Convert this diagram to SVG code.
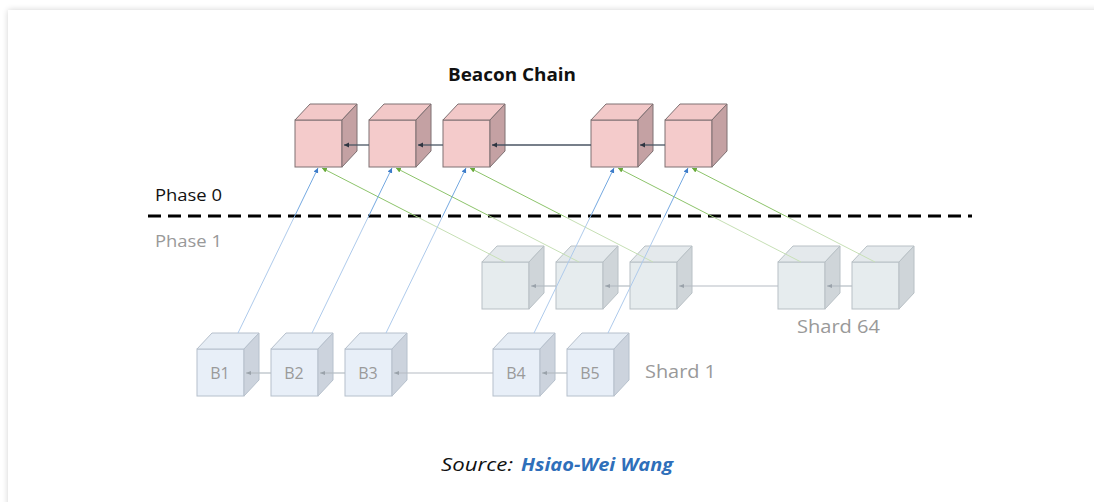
<svg xmlns="http://www.w3.org/2000/svg" width="1094" height="502" viewBox="0 0 1094 502">
<defs>
<filter id="shadow" x="-5%" y="-10%" width="110%" height="120%">
<feGaussianBlur in="SourceAlpha" stdDeviation="3"/>
<feComponentTransfer><feFuncA type="linear" slope="0.18"/></feComponentTransfer>
<feMerge><feMergeNode/><feMergeNode in="SourceGraphic"/></feMerge>
</filter>
<linearGradient id="gBlue" gradientUnits="userSpaceOnUse" x1="0" y1="0" x2="0" y2="502">
<stop offset="0.43" stop-color="#74a8e0"/>
<stop offset="0.435" stop-color="#aecaeb"/>
<stop offset="1" stop-color="#aecaeb"/>
</linearGradient>
<linearGradient id="gGreen" gradientUnits="userSpaceOnUse" x1="0" y1="0" x2="0" y2="502">
<stop offset="0.43" stop-color="#8cc36a"/>
<stop offset="0.435" stop-color="#c4deb2"/>
<stop offset="1" stop-color="#dcebd0"/>
</linearGradient>
<marker id="aBeacon" markerWidth="6" markerHeight="6" refX="5" refY="3" orient="auto" markerUnits="userSpaceOnUse">
<path d="M0,0.5 L5,3 L0,5.5 Z" fill="#2f3540"/>
</marker>
<marker id="aGray" markerWidth="6" markerHeight="6" refX="5" refY="3" orient="auto" markerUnits="userSpaceOnUse">
<path d="M0,1 L5,3 L0,5 Z" fill="#9aa2aa"/>
</marker>
<marker id="aBlue" markerWidth="6" markerHeight="6" refX="5" refY="3" orient="auto" markerUnits="userSpaceOnUse">
<path d="M0,0.5 L5,3 L0,5.5 Z" fill="#3d7cc9"/>
</marker>
<marker id="aGreen" markerWidth="6" markerHeight="6" refX="5" refY="3" orient="auto" markerUnits="userSpaceOnUse">
<path d="M0,0.5 L5,3 L0,5.5 Z" fill="#6aaa3a"/>
</marker>
</defs>
<style>
.t{font-family:"Open Sans",Lato,"Liberation Sans",sans-serif}
.bf{fill:#f4cbcb;stroke:#7e7072;stroke-width:1}
.bt{fill:#f2c8c8;stroke:#7e7072;stroke-width:1}
.bs{fill:#c4a1a3;stroke:#7e7072;stroke-width:1}
.sf{fill:#e6ecee;stroke:#b8c0c5;stroke-width:1}
.st{fill:#e4e9ec;stroke:#b8c0c5;stroke-width:1}
.ss{fill:#cfd5d9;stroke:#b8c0c5;stroke-width:1}
.pf{fill:#e8eff8;stroke:#b6c0cc;stroke-width:1}
.pt{fill:#e6edf5;stroke:#b6c0cc;stroke-width:1}
.ps{fill:#ccd3dd;stroke:#b6c0cc;stroke-width:1}
.blbl{font-size:16px;fill:#9a9a9a;text-anchor:middle}
.bl{stroke:url(#gBlue);stroke-width:1;fill:none;marker-end:url(#aBlue)}
.gl{stroke:url(#gGreen);stroke-width:1;fill:none;marker-end:url(#aGreen)}
.bc{stroke:#4a5563;stroke-width:1.3;fill:none;marker-end:url(#aBeacon)}
.sc{stroke:#b5bcc3;stroke-width:1.2;fill:none;marker-end:url(#aGray)}
</style>
<rect x="0" y="0" width="1094" height="502" fill="#ffffff"/>
<rect x="8" y="10" width="1100" height="510" fill="#ffffff" filter="url(#shadow)"/>

<text class="t" x="448" y="81" font-size="18" font-weight="bold" fill="#111" textLength="128" lengthAdjust="spacingAndGlyphs">Beacon Chain</text>
<text class="t" x="155" y="201" font-size="16" fill="#111" textLength="67" lengthAdjust="spacingAndGlyphs">Phase 0</text>
<text class="t" x="155" y="247" font-size="16" fill="#999" textLength="67" lengthAdjust="spacingAndGlyphs">Phase 1</text>
<line x1="148" y1="216" x2="972" y2="216" stroke="#000" stroke-width="3" stroke-dasharray="13 7"/>

<g id="beacon1"><rect class="bf" x="295" y="120" width="47" height="47"/><polygon class="bt" points="295,120 310,104 357,104 342,120"/><polygon class="bs" points="342,120 357,104 357,151 342,167"/></g>
<g id="beacon2"><rect class="bf" x="369" y="120" width="47" height="47"/><polygon class="bt" points="369,120 384,104 431,104 416,120"/><polygon class="bs" points="416,120 431,104 431,151 416,167"/></g>
<g id="beacon3"><rect class="bf" x="443" y="120" width="47" height="47"/><polygon class="bt" points="443,120 458,104 505,104 490,120"/><polygon class="bs" points="490,120 505,104 505,151 490,167"/></g>
<g id="beacon4"><rect class="bf" x="591" y="120" width="47" height="47"/><polygon class="bt" points="591,120 606,104 653,104 638,120"/><polygon class="bs" points="638,120 653,104 653,151 638,167"/></g>
<g id="beacon5"><rect class="bf" x="665" y="120" width="47" height="47"/><polygon class="bt" points="665,120 680,104 727,104 712,120"/><polygon class="bs" points="712,120 727,104 727,151 712,167"/></g>

<g id="s64a"><rect class="sf" x="482" y="262" width="47" height="47"/><polygon class="st" points="482,262 497,246 544,246 529,262"/><polygon class="ss" points="529,262 544,246 544,293 529,309"/></g>
<g id="s64b"><rect class="sf" x="556" y="262" width="47" height="47"/><polygon class="st" points="556,262 571,246 618,246 603,262"/><polygon class="ss" points="603,262 618,246 618,293 603,309"/></g>
<g id="s64c"><rect class="sf" x="630" y="262" width="47" height="47"/><polygon class="st" points="630,262 645,246 692,246 677,262"/><polygon class="ss" points="677,262 692,246 692,293 677,309"/></g>
<g id="s64d"><rect class="sf" x="778" y="262" width="47" height="47"/><polygon class="st" points="778,262 793,246 840,246 825,262"/><polygon class="ss" points="825,262 840,246 840,293 825,309"/></g>
<g id="s64e"><rect class="sf" x="852" y="262" width="47" height="47"/><polygon class="st" points="852,262 867,246 914,246 899,262"/><polygon class="ss" points="899,262 914,246 914,293 899,309"/></g>
<text class="t" x="797" y="333" font-size="18" fill="#999" textLength="83" lengthAdjust="spacingAndGlyphs">Shard 64</text>

<g id="B1"><rect class="pf" x="197" y="349" width="47" height="47"/><polygon class="pt" points="197,349 212,333 259,333 244,349"/><polygon class="ps" points="244,349 259,333 259,380 244,396"/><text class="t blbl" x="220" y="379">B1</text></g>
<g id="B2"><rect class="pf" x="271" y="349" width="47" height="47"/><polygon class="pt" points="271,349 286,333 333,333 318,349"/><polygon class="ps" points="318,349 333,333 333,380 318,396"/><text class="t blbl" x="294" y="379">B2</text></g>
<g id="B3"><rect class="pf" x="345" y="349" width="47" height="47"/><polygon class="pt" points="345,349 360,333 407,333 392,349"/><polygon class="ps" points="392,349 407,333 407,380 392,396"/><text class="t blbl" x="368" y="379">B3</text></g>
<g id="B4"><rect class="pf" x="493" y="349" width="47" height="47"/><polygon class="pt" points="493,349 508,333 555,333 540,349"/><polygon class="ps" points="540,349 555,333 555,380 540,396"/><text class="t blbl" x="516" y="379">B4</text></g>
<g id="B5"><rect class="pf" x="567" y="349" width="47" height="47"/><polygon class="pt" points="567,349 582,333 629,333 614,349"/><polygon class="ps" points="614,349 629,333 629,380 614,396"/><text class="t blbl" x="590" y="379">B5</text></g>
<text class="t" x="645" y="378" font-size="18" fill="#999" textLength="71" lengthAdjust="spacingAndGlyphs">Shard 1</text>

<g id="connectors">
<line class="bc" x1="369" y1="145" x2="344" y2="145"/>
<line class="bc" x1="443" y1="145" x2="418" y2="145"/>
<line class="bc" x1="591" y1="145" x2="492" y2="145"/>
<line class="bc" x1="665" y1="145" x2="640" y2="145"/>
<line class="sc" x1="556" y1="286" x2="531" y2="286"/>
<line class="sc" x1="630" y1="286" x2="605" y2="286"/>
<line class="sc" x1="778" y1="286" x2="679" y2="286"/>
<line class="sc" x1="852" y1="286" x2="827" y2="286"/>
<line class="sc" x1="271" y1="373" x2="246" y2="373"/>
<line class="sc" x1="345" y1="373" x2="320" y2="373"/>
<line class="sc" x1="493" y1="373" x2="394" y2="373"/>
<line class="sc" x1="567" y1="373" x2="542" y2="373"/>
<line class="gl" x1="505" y1="262" x2="322" y2="168"/>
<line class="gl" x1="579" y1="262" x2="396" y2="168"/>
<line class="gl" x1="653" y1="262" x2="470" y2="168"/>
<line class="gl" x1="801" y1="262" x2="618" y2="168"/>
<line class="gl" x1="875" y1="262" x2="692" y2="168"/>
<line class="bl" x1="238" y1="333" x2="318" y2="168"/>
<line class="bl" x1="312" y1="333" x2="392" y2="168"/>
<line class="bl" x1="386" y1="333" x2="466" y2="168"/>
<line class="bl" x1="534" y1="333" x2="614" y2="168"/>
<line class="bl" x1="608" y1="333" x2="688" y2="168"/>
</g>

<text class="t" x="441" y="471" font-size="18" font-style="italic" fill="#111" textLength="72" lengthAdjust="spacingAndGlyphs">Source:</text>
<text class="t" x="521" y="471" font-size="18" font-style="italic" font-weight="bold" fill="#2f6fba" textLength="152" lengthAdjust="spacingAndGlyphs">Hsiao-Wei Wang</text>
</svg>
